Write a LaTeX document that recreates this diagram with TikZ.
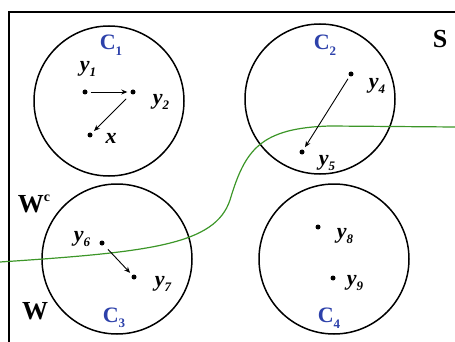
\documentclass[tikz,border=0pt]{standalone}
\usepackage{fontspec}
\setmainfont{Liberation Serif}
\usetikzlibrary{arrows.meta}
\definecolor{clab}{RGB}{45,65,170}
\definecolor{bound}{RGB}{60,150,40}
\newcommand\subl[2]{#1\raisebox{-0.25em}{\fontsize{13}{13}\selectfont #2}}
\newcommand\supl[2]{#1\raisebox{0.4em}{\fontsize{14}{14}\selectfont #2}}

\begin{document}
\begin{tikzpicture}[x=1pt, y=-1pt,
    cluster/.style={draw, circle, line width=1.5pt, minimum size=150pt, inner sep=0pt},
    pt/.style={circle, fill, inner sep=0pt, minimum size=5pt},
    ylab/.style={font=\fontsize{22}{22}\selectfont\bfseries\itshape, inner sep=0pt},
    cname/.style={font=\fontsize{22}{22}\selectfont\bfseries, text=clab, inner sep=0pt},
    region/.style={font=\fontsize{26}{26}\selectfont\bfseries, inner sep=0pt},
    arr/.style={-{Stealth[length=6pt, width=5pt]}, line width=0.9pt, shorten >=3pt, shorten <=3pt}
  ]
    \useasboundingbox (0,0) rectangle (455,342);
    % frame of S
    \draw[line width=1.6pt] (9,342) -- (9,12) -- (455,12);

    % clusters
    \node[cluster] (c1) at (109,101) {};
    \node[cluster] (c2) at (320,99) {};
    \node[cluster] (c3) at (117,259) {};
    \node[cluster] (c4) at (334,259) {};

    % boundary between W and W^c
    \coordinate (bl) at (0,262);
    \coordinate (bm) at (230,200);
    \coordinate (bt) at (330,126);
    \coordinate (br) at (455,127);
    \draw[bound, line width=1.2pt] (bl) .. controls (150,252) and (215,245) .. (bm)
      .. controls (245,150) and (260,128) .. (bt) -- (br);

    % points
    \node[pt] (y1) at (85,92) {};
    \node[pt] (y2) at (133,92) {};
    \node[pt] (x) at (90,135) {};
    \node[pt] (y4) at (351,74) {};
    \node[pt] (y5) at (302,152) {};
    \node[pt] (y6) at (102,243) {};
    \node[pt] (y7) at (134,277) {};
    \node[pt] (y8) at (318,227) {};
    \node[pt] (y9) at (333,278) {};

    % labels
    \node[cname] (l1) at (111,45) {\subl{C}{1}};
    \node[cname] (l2) at (325,45) {\subl{C}{2}};
    \node[cname] (l3) at (114,318) {\subl{C}{3}};
    \node[cname] (l4) at (329,318) {\subl{C}{4}};
    \node[ylab] (ly1) at (88,69) {\subl{y}{1}};
    \node[ylab] (ly2) at (161,102) {\subl{y}{2}};
    \node[ylab] (lx) at (111,138) {x};
    \node[ylab] (ly4) at (377,86) {\subl{y}{4}};
    \node[ylab] (ly5) at (327,163) {\subl{y}{5}};
    \node[ylab] (ly6) at (82,239) {\subl{y}{6}};
    \node[ylab] (ly7) at (163,284) {\subl{y}{7}};
    \node[ylab] (ly8) at (345,236) {\subl{y}{8}};
    \node[ylab] (ly9) at (355,283) {\subl{y}{9}};
    \node[region] (s) at (440,39) {S};
    \node[region] (wc) at (34,204) {\supl{W}{c}};
    \node[region] (w) at (35,311) {W};

    % moves
    \draw[arr] (y1) -- (y2);
    \draw[arr, shorten <=7pt] (y2) -- (x);
    \draw[arr] (y4) -- (y5);
    \draw[arr, shorten <=6pt] (y6) -- (y7);
\end{tikzpicture}
\end{document}
